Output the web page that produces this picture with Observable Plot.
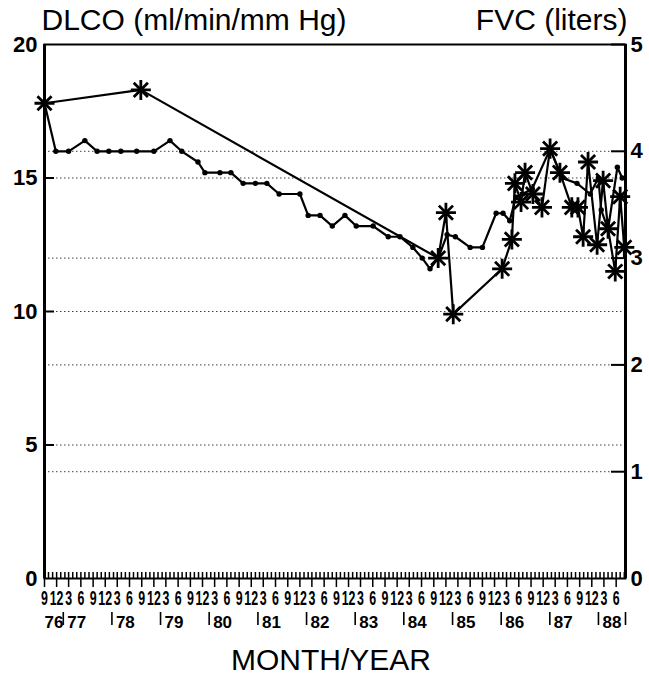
<!DOCTYPE html>
<html><head><meta charset="utf-8">
<script src="https://cdn.jsdelivr.net/npm/d3@7"></script>
<script src="https://cdn.jsdelivr.net/npm/@observablehq/plot@0.6"></script>
<style>body{margin:0;background:#fff;} svg{font-family:"Liberation Sans",Arial,sans-serif;}</style>
</head><body><div id="chart"></div>
<script>
// DLCO (ml/min/mm Hg) — asterisk series, left axis
const dlcoDates = ["1976-09-01","1978-08-25","1984-10-04","1984-12-01","1985-01-25","1986-01-27","1986-04-10","1986-05-03","1986-06-18","1986-07-18","1986-09-15","1986-11-22","1987-01-22","1987-04-06","1987-07-04","1987-08-19","1987-09-27","1987-11-03","1988-01-10","1988-02-24","1988-04-01","1988-05-25","1988-07-01","1988-08-01"];
const dlcoValues = [17.8,18.3,12.0,13.7,9.9,11.6,12.7,14.8,14.1,15.2,14.4,13.9,16.1,15.2,13.9,13.9,12.8,15.6,12.5,14.9,13.1,11.5,14.3,12.4];

// FVC (liters) — dot series, right axis
const fvcDates = ["1976-09-01","1976-11-25","1977-03-01","1977-07-01","1977-10-01","1977-12-28","1978-03-28","1978-07-25","1978-12-01","1979-04-01","1979-06-28","1979-10-28","1979-12-19","1980-04-10","1980-07-01","1980-10-01","1981-01-01","1981-03-28","1981-06-28","1981-12-01","1982-02-01","1982-05-01","1982-08-01","1982-11-04","1983-01-28","1983-06-04","1983-09-25","1983-12-22","1984-03-28","1984-06-06","1984-08-04","1984-10-04","1984-12-10","1985-02-10","1985-06-01","1985-09-01","1985-12-13","1986-02-03","1986-03-25","1986-05-10","1986-07-01","1986-09-10","1987-01-22","1987-04-22","1987-08-12","1987-11-19","1988-01-19","1988-02-10","1988-04-01","1988-06-10","1988-07-16"];
const fvcValues = [4.45,4.0,4.0,4.1,4.0,4.0,4.0,4.0,4.0,4.1,4.0,3.9,3.8,3.8,3.8,3.7,3.7,3.7,3.6,3.6,3.4,3.4,3.3,3.4,3.3,3.3,3.2,3.2,3.1,3.0,2.9,3.0,3.22,3.2,3.1,3.1,3.42,3.42,3.35,3.57,3.6,3.65,4.02,3.75,3.7,3.6,3.75,3.45,3.27,3.85,3.75];

// axis ticks / labels
const leftTicks = [0,5,10,15,20];
const rightTicks = [0,1,2,3,4,5];
const gridDlco = [4,5,8,10,12,15,16];
const monthLabels = ["9","12","3","6"];      // cycle of quarter labels
const yearLabels = ["76","77","78","79","80","81","82","83","84","85","86","87","88"];
const startMonth = "1976-09-01", endMonth = "1988-08-10", lastTick = "1988-06-01";

const parse = d3.utcParse("%Y-%m-%d");
const dlco = dlcoDates.map((d,i)=>({date: parse(d), v: dlcoValues[i]}));
const fvc = fvcDates.map((d,i)=>({date: parse(d), v: fvcValues[i]}));
const x0 = parse(startMonth), x1 = parse(endMonth), xl = parse(lastTick);
const minor = d3.utcMonth.range(x0, x1);
const major = d3.utcMonth.range(x0, d3.utcMonth.offset(xl,1), 3);
const years = yearLabels.map((y,i)=>({
  date: i===0 ? x0 : new Date(Date.UTC(1900+ +y,0,20)),
  bar: i>0,
  text: y
}));
const firstYear = years.filter(d=>!d.bar);
const laterYears = years.filter(d=>d.bar);
const yearBars = laterYears.map(d=>d.date).concat([x1]);

const W = 649, H = 692, mL = 44, mR = 24, mT = 44, mB = 114;
const fw = W-mL-mR, fh = H-mT-mB;

const chart = Plot.plot({
  width: W, height: H,
  marginLeft: mL, marginRight: mR, marginTop: mT, marginBottom: mB,
  x: {type: "utc", domain: [x0, x1]},
  y: {domain: [0, 20]},
  style: {fontFamily: "Liberation Sans, Arial, sans-serif", color: "#000", background: "#fff"},
  marks: [
    Plot.ruleY(gridDlco, {y: d=>d, stroke: "#000", strokeWidth: 1, strokeDasharray: "1.5,2.5", strokeOpacity: 0.75}),
    Plot.ruleY([5,10,15], {y: d=>d, stroke: "#000", strokeWidth: 2, insetRight: fw-10}),
    Plot.ruleY([4,8,12,16,20], {y: d=>d, stroke: "#000", strokeWidth: 2, insetLeft: fw-14}),
    Plot.frame({stroke: "#000", strokeWidth: 2}),
    Plot.ruleX([x0, x1], {stroke: "#000", strokeWidth: 3}),
    Plot.tickX(minor, {x: d=>d, stroke: "#000", strokeWidth: 1.5, insetTop: fh-6}),
    Plot.axisX({ticks: major, label: null, tickSize: 9, tickPadding: 3, tickFormat: (d,i)=>monthLabels[i%4], fontSize: 20, fontWeight: "bold", stroke: "#000", strokeWidth: 1.5, anchor: "bottom"}),
    Plot.tickX(yearBars, {x: d=>d, stroke: "#000", strokeWidth: 1.6, insetTop: fh+34, insetBottom: -47}),
    Plot.text(firstYear, {x: "date", y: 0, text: "text", dy: 44, dx: 0, textAnchor: "start", fontSize: 17, fontWeight: "bold"}),
    Plot.text(laterYears, {x: "date", y: 0, text: "text", dy: 44, dx: 4, textAnchor: "start", fontSize: 17, fontWeight: "bold"}),
    Plot.axisY({anchor: "left", label: null, ticks: leftTicks, tickSize: 0, tickPadding: 7, fontSize: 22, fontWeight: "bold"}),
    Plot.axisY({anchor: "right", label: null, ticks: rightTicks.map(d=>d*4), tickFormat: d=>String(d/4), tickSize: 0, tickPadding: 5, fontSize: 22, fontWeight: "bold"}),
    Plot.line(fvc, {x: "date", y: d=>d.v*4, stroke: "#000", strokeWidth: 2.2}),
    Plot.dot(fvc, {x: "date", y: d=>d.v*4, r: 2.7, fill: "#000"}),
    Plot.line(dlco, {x: "date", y: "v", stroke: "#000", strokeWidth: 2.2}),
    Plot.dot(dlco, {x: "date", y: "v", symbol: "plus", r: 6.5, stroke: "#000", strokeWidth: 2.8}),
    Plot.dot(dlco, {x: "date", y: "v", symbol: "times", r: 6.5, stroke: "#000", strokeWidth: 2.8}),
    Plot.text(["DLCO (ml/min/mm Hg)"], {frameAnchor: "top-left", textAnchor: "start", dx: -3, dy: -36, fontSize: 30}),
    Plot.text(["FVC (liters)"], {frameAnchor: "top-right", textAnchor: "end", dx: 2, dy: -36, fontSize: 30}),
    Plot.text(["MONTH/YEAR"], {frameAnchor: "bottom", dx: -4, dy: 91, fontSize: 30})
  ]
});
// horizontally condense the crowded quarter-month labels, as in the original print
chart.querySelectorAll('g[aria-label="x-axis tick label"] text').forEach(t => {
  const tr = t.getAttribute("transform") || "";
  t.setAttribute("transform", tr + " scale(0.62,1)");
});
document.getElementById("chart").appendChild(chart);
</script>
</body></html>
